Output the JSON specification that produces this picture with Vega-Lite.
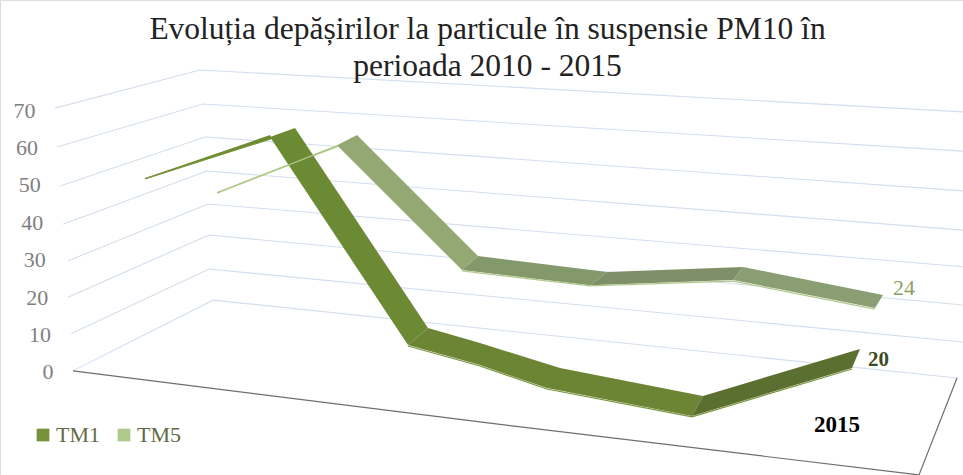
{
"$schema":"https://vega.github.io/schema/vega-lite/v6.json",
"width":963,"height":475,"padding":0,"autosize":{"type":"none"},"background":"white",
"title":{"text":["Evoluția depășirilor la particule în suspensie PM10 în","perioada 2010 - 2015"],"font":"Liberation Serif","fontSize":31.5,"fontWeight":"normal","color":"#222222","anchor":"middle","offset":-82,"dx":6,"lineHeight":37},
"datasets":{
"grid":[
{"g":70,"o":0,"x":55,"v":70.5},{"g":70,"o":1,"x":200,"v":80.7},{"g":70,"o":2,"x":963,"v":69.5},
{"g":60,"o":0,"x":57,"v":60.1},{"g":60,"o":1,"x":203,"v":71.6},{"g":60,"o":2,"x":963,"v":59.0},
{"g":50,"o":0,"x":60,"v":49.7},{"g":50,"o":1,"x":205,"v":62.8},{"g":50,"o":2,"x":963,"v":48.4},
{"g":40,"o":0,"x":63,"v":39.5},{"g":40,"o":1,"x":207,"v":53.7},{"g":40,"o":2,"x":963,"v":37.9},
{"g":30,"o":0,"x":68,"v":29.7},{"g":30,"o":1,"x":208,"v":44.9},{"g":30,"o":2,"x":963,"v":28.1},
{"g":20,"o":0,"x":68,"v":20.0},{"g":20,"o":1,"x":209,"v":36.6},{"g":20,"o":2,"x":963,"v":17.9},
{"g":10,"o":0,"x":71,"v":10.2},{"g":10,"o":1,"x":209,"v":27.5},{"g":10,"o":2,"x":963,"v":8.0},
{"g":0,"o":0,"x":73,"v":0.3},{"g":0,"o":1,"x":213,"v":19.2},{"g":0,"o":2,"x":957,"v":-1.6}
],
"floor":[{"o":0,"x":73,"v":0.3},{"o":1,"x":480,"v":-13.35},{"o":2,"x":919,"v":-27.5},{"o":3,"x":957,"v":-1.6}],
"ribbon":[
{"part":"TM5 a","o":0,"x":217,"v":48.1},{"part":"TM5 a","o":1,"x":337,"v":60.6},{"part":"TM5 a","o":2,"x":338,"v":60.1},{"part":"TM5 a","o":3,"x":217,"v":47.8},
{"part":"TM5 b","o":0,"x":337,"v":60.6},{"part":"TM5 b","o":1,"x":357,"v":63.3},{"part":"TM5 b","o":2,"x":478,"v":31.0},{"part":"TM5 b","o":3,"x":462,"v":27.25},{"part":"TM5 b","o":4,"x":337,"v":60.6},
{"part":"TM5 c","o":0,"x":462,"v":27.25},{"part":"TM5 c","o":1,"x":478,"v":31.0},{"part":"TM5 c","o":2,"x":607,"v":26.7},{"part":"TM5 c","o":3,"x":590,"v":23.2},{"part":"TM5 c","o":4,"x":462,"v":27.25},
{"part":"TM5 d","o":0,"x":590,"v":23.2},{"part":"TM5 d","o":1,"x":607,"v":26.7},{"part":"TM5 d","o":2,"x":743,"v":28.05},{"part":"TM5 d","o":3,"x":733,"v":24.6},{"part":"TM5 d","o":4,"x":590,"v":23.2},
{"part":"TM5 e","o":0,"x":733,"v":24.6},{"part":"TM5 e","o":1,"x":743,"v":28.05},{"part":"TM5 e","o":2,"x":883,"v":20.6},{"part":"TM5 e","o":3,"x":875,"v":17.1},{"part":"TM5 e","o":4,"x":733,"v":24.6},
{"part":"TM1 a","o":0,"x":145,"v":51.8},{"part":"TM1 a","o":1,"x":270,"v":63.3},{"part":"TM1 a","o":2,"x":272,"v":62.25},{"part":"TM1 a","o":3,"x":145,"v":51.6},
{"part":"TM1 b","o":0,"x":270,"v":62.8},{"part":"TM1 b","o":1,"x":295,"v":65.2},{"part":"TM1 b","o":2,"x":428,"v":11.75},{"part":"TM1 b","o":3,"x":408,"v":7.2},{"part":"TM1 b","o":4,"x":270,"v":62.8},
{"part":"TM1 c","o":0,"x":408,"v":7.2},{"part":"TM1 c","o":1,"x":428,"v":11.75},{"part":"TM1 c","o":2,"x":480,"v":7.75},{"part":"TM1 c","o":3,"x":560,"v":1.05},{"part":"TM1 c","o":4,"x":703,"v":-6.4},{"part":"TM1 c","o":5,"x":692,"v":-11.75},{"part":"TM1 c","o":6,"x":547,"v":-4.3},{"part":"TM1 c","o":7,"x":480,"v":1.85},{"part":"TM1 c","o":8,"x":408,"v":7.2},
{"part":"TM1 d","o":0,"x":692,"v":-11.75},{"part":"TM1 d","o":1,"x":703,"v":-6.4},{"part":"TM1 d","o":2,"x":860,"v":6.15},{"part":"TM1 d","o":3,"x":852,"v":1.05},{"part":"TM1 d","o":4,"x":692,"v":-11.75}
],
"rim":[
{"s":"TM5","p":"a","o":0,"x":217,"v":47.8},{"s":"TM5","p":"a","o":1,"x":337,"v":60.4},
{"s":"TM5","p":"b","o":0,"x":462,"v":27.0},{"s":"TM5","p":"b","o":1,"x":590,"v":23.0},{"s":"TM5","p":"b","o":2,"x":733,"v":24.3},{"s":"TM5","p":"b","o":3,"x":875,"v":16.8},
{"s":"TM1","p":"a","o":0,"x":145,"v":51.6},{"s":"TM1","p":"a","o":1,"x":270,"v":62.25},
{"s":"TM1","p":"b","o":0,"x":408,"v":6.95},{"s":"TM1","p":"b","o":1,"x":480,"v":1.6},{"s":"TM1","p":"b","o":2,"x":547,"v":-4.55},{"s":"TM1","p":"b","o":3,"x":692,"v":-12.0},{"s":"TM1","p":"b","o":4,"x":852,"v":0.8}
]
},
"encoding":{
"x":{"field":"x","type":"quantitative","scale":{"domain":[0,963],"nice":false,"zero":false},"axis":null},
"y":{"field":"v","type":"quantitative","scale":{"domain":[-27.52,99.39],"nice":false,"zero":false},
 "axis":{"title":null,"values":[0,10,20,30,40,50,60,70],"grid":false,"domain":false,"ticks":false,"offset":-53,"labelFont":"Liberation Serif","labelFontSize":22,"labelColor":"#7f7f7f","labelPadding":{"expr":"datum.value*0.257"},"labelFlush":false,"labelOverlap":false}}
},
"layer":[
{"data":{"name":"grid"},"mark":{"type":"line","stroke":"#d3deee","strokeWidth":1.1},"encoding":{"detail":{"field":"g"},"order":{"field":"o"}}},
{"data":{"name":"floor"},"mark":{"type":"line","stroke":"#6e6e6e","strokeWidth":1.2},"encoding":{"order":{"field":"o"}}},
{"data":{"name":"ribbon"},"mark":{"type":"line","strokeWidth":0},"encoding":{"detail":{"field":"part"},"order":{"field":"o"},
 "fill":{"field":"part","type":"nominal","legend":null,"scale":{"domain":["TM5 a","TM5 b","TM5 c","TM5 d","TM5 e","TM1 a","TM1 b","TM1 c","TM1 d"],"range":["#a9c47f","#94a874","#83996a","#7f8f67","#8a9e73","#6e8c2f","#6c8a33","#6c8535","#5b7030"]}}}},
{"data":{"name":"rim"},"mark":{"type":"line","strokeWidth":1.2},"encoding":{"detail":{"field":"p"},"order":{"field":"o"},
 "color":{"field":"s","type":"nominal","scale":{"domain":["TM1","TM5"],"range":["#76923c","#b0c98a"]},
 "legend":{"title":null,"orient":"none","legendX":32,"legendY":424,"direction":"horizontal","columns":2,"symbolType":"square","symbolSize":40,"symbolStrokeWidth":6.4,"labelFont":"Liberation Serif","labelFontSize":22,"labelColor":"#5f6b45","labelOffset":2,"columnPadding":8}}}},
{"data":{"values":[{"label":"24","x":893,"v":22.4}]},"mark":{"type":"text","align":"left","baseline":"middle","font":"Liberation Serif","fontSize":22,"color":"#8a9f5f"},"encoding":{"text":{"field":"label"}}},
{"data":{"values":[{"label":"20","x":868,"v":3.2}]},"mark":{"type":"text","align":"left","baseline":"middle","font":"Liberation Serif","fontSize":21,"fontWeight":"bold","color":"#3d4a22"},"encoding":{"text":{"field":"label"}}},
{"data":{"values":[{"label":"2015","x":814,"v":-14.2}]},"mark":{"type":"text","align":"left","baseline":"middle","font":"Liberation Serif","fontSize":23,"fontWeight":"bold","color":"#000000"},"encoding":{"text":{"field":"label"}}}
]
}
